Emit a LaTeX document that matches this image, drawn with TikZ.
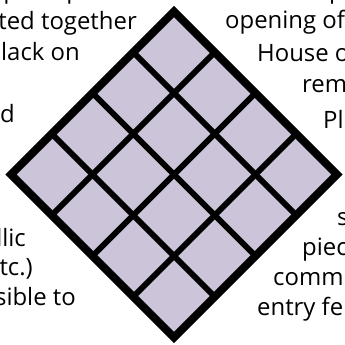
\documentclass[tikz,border=0pt]{standalone}
\usepackage{fontspec}
\setmainfont{Open Sans}
\definecolor{tilefill}{RGB}{204,196,216}
\begin{document}
\begin{tikzpicture}[x=1bp,y=1bp,
    txt/.style={inner sep=0pt,font=\fontsize{24}{30}\selectfont},
    lft/.style={txt,anchor=base east},
    rgt/.style={txt,anchor=base west}]
      \useasboundingbox (0,0) rectangle (345,345);
      \clip (0,0) rectangle (345,345);
      % text on the left
      \node[lft] (ltop) at (137,346.5) {square pieces};
      \node[lft] (lted) at (137,316) {ted together};
      \node[lft] (lblack) at (80,285) {black on};
      \node[lft] (ld) at (15,223) {d};
      \node[lft] (lllic) at (26,99) {llic};
      \node[lft] (letc) at (33,70) {tc.)};
      \node[lft] (lsible) at (76,40) {sible to};
      % text on the right
      \node[rgt] (rtop) at (223,346.5) {since the public};
      \node[rgt] (ropen) at (225,317) {opening of};
      \node[rgt] (rhouse) at (257,284) {House o};
      \node[rgt] (rrem) at (302,253) {rem};
      \node[rgt] (rpl) at (323,217) {Pl};
      \node[rgt] (rs) at (337,120) {s};
      \node[rgt] (rpiec) at (302,90) {piec};
      \node[rgt] (rcomm) at (273,60) {comm};
      \node[rgt] (rentry) at (257,30) {entry fe};
      % the tiles
      \begin{scope}[shift={(174,170.5)},rotate=45]
        \fill[tilefill] (-115.25,-115.25) rectangle (115.25,115.25);
        \foreach \k in {-1,0,1}{
          \draw[line width=6bp] (\k*57.63,-115.25) -- (\k*57.63,115.25);
          \draw[line width=6bp] (-115.25,\k*57.63) -- (115.25,\k*57.63);
        }
        \draw[line width=8bp] (-115.25,-115.25) rectangle (115.25,115.25);
      \end{scope}
    \end{tikzpicture}
\end{document}
